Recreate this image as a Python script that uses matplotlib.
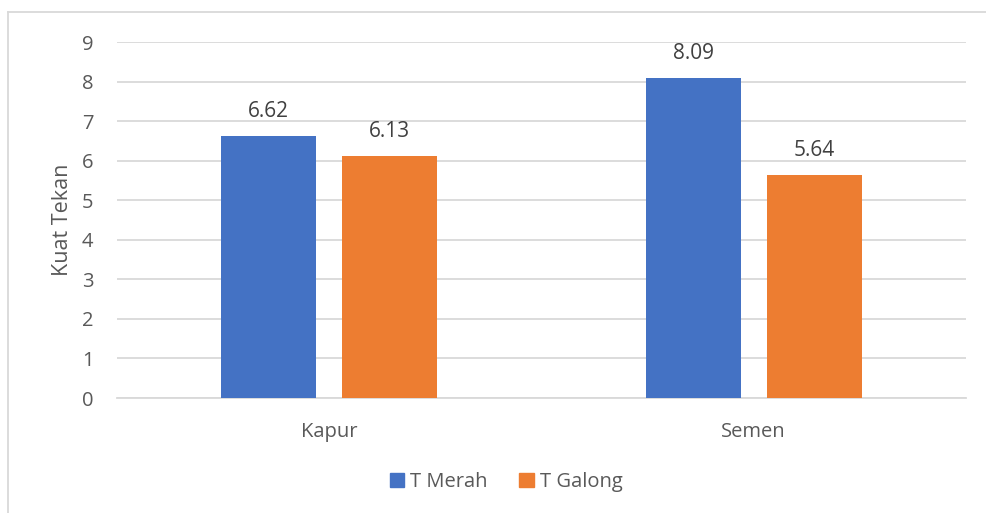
import matplotlib.pyplot as plt
import numpy as np
from matplotlib.lines import Line2D
from matplotlib.patches import Patch

# Data
categories = ['Kapur', 'Semen']
t_merah = [6.62, 8.09]
t_galong = [6.13, 5.64]
series_names = ['T Merah', 'T Galong']

colors = ['#4472C4', '#ED7D31']
text_color = '#595959'
label_color = '#404040'
grid_color = '#D9D9D9'

plt.rcParams['font.family'] = ['Open Sans', 'DejaVu Sans']

fig = plt.figure(figsize=(9.86, 5.13), dpi=100)
ax = fig.add_axes([117 / 986, 1 - 398 / 513, (966 - 117) / 986, (398 - 42) / 513])

x = np.arange(len(categories))
w = 0.224
off = 0.1425

bars1 = ax.bar(x - off, t_merah, width=w, color=colors[0], label=series_names[0], zorder=3)
bars2 = ax.bar(x + off, t_galong, width=w, color=colors[1], label=series_names[1], zorder=3)

# Value labels above each bar
for bars, vals in [(bars1, t_merah), (bars2, t_galong)]:
    for b, v in zip(bars, vals):
        ax.annotate(f'{v:.2f}', (b.get_x() + b.get_width() / 2, v),
                    xytext=(0, 10), textcoords='offset points',
                    ha='center', va='bottom', fontsize=15, color=label_color)

ax.set_xlim(-0.5, 1.5)
ax.set_ylim(0, 9)
ax.set_yticks(range(10))
ax.set_xticks(x)
ax.set_xticklabels(categories)

ax.grid(axis='y', color=grid_color, linewidth=1.3, zorder=0)
for s in ['top', 'right', 'left']:
    ax.spines[s].set_visible(False)
ax.spines['bottom'].set_color(grid_color)
ax.spines['bottom'].set_linewidth(1.3)
ax.tick_params(axis='both', length=0, labelsize=14.5, labelcolor=text_color)
ax.tick_params(axis='y', pad=17)
ax.tick_params(axis='x', pad=17)

ax.set_ylabel('Kuat Tekan', fontsize=15.5, color=text_color, labelpad=6)

handles = [Patch(color=c) for c in colors]
fig.legend(handles, series_names, loc='center', bbox_to_anchor=(506 / 986, 1 - 482 / 513),
           ncol=2, frameon=False, fontsize=14.5, labelcolor=text_color,
           handlelength=0.7, handleheight=0.7, handletextpad=0.3, columnspacing=1.6)

# Chart area border (top and left edges)
fig.add_artist(Line2D([8 / 986, 8 / 986], [0, 1 - 12 / 513], transform=fig.transFigure,
                      color=grid_color, linewidth=1.3))
fig.add_artist(Line2D([8 / 986, 1], [1 - 12 / 513, 1 - 12 / 513], transform=fig.transFigure,
                      color=grid_color, linewidth=1.3))

fig.savefig('out.png', dpi=100, facecolor='white')
